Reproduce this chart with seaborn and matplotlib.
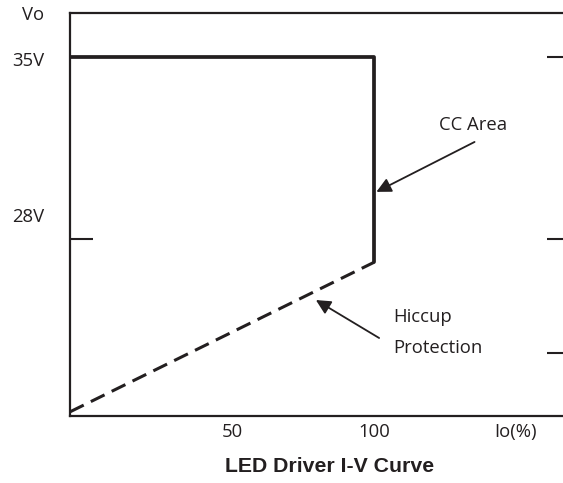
import matplotlib
matplotlib.use('Agg')
import matplotlib.pyplot as plt
import matplotlib.transforms as mtransforms
import seaborn as sns
import pandas as pd

# CC (constant current) segment of the curve
cc_current = [0, 100, 100]
cc_voltage = [35, 35, 27.1]
# hiccup protection segment (dashed)
hiccup_current = [0, 100]
hiccup_voltage = [21.35, 27.1]

x_tick_pos = [53.5, 100, 146.5]
x_tick_labels = ['50', '100', 'Io(%)']
left_ticks = [35, 28]
right_ticks = [35, 28, 23.6]
y_labels = ['Vo', '35V', '28V']

ink = '#231f20'
fs = 13.3

sns.set_style('white')
plt.rcParams['font.family'] = ['Open Sans', 'DejaVu Sans']

fig = plt.figure(figsize=(5.63, 4.83), dpi=100)
ax = fig.add_axes([70 / 563, 67 / 483, 493 / 563, 403 / 483])

cc_df = pd.DataFrame({'current': cc_current, 'voltage': cc_voltage})
hc_df = pd.DataFrame({'current': hiccup_current, 'voltage': hiccup_voltage})

sns.lineplot(data=cc_df, x='current', y='voltage', estimator=None, sort=False,
             color=ink, linewidth=2.7, ax=ax)
sns.lineplot(data=hc_df, x='current', y='voltage', estimator=None, sort=False,
             color=ink, linewidth=2.2, dashes=False, ax=ax)
ax.lines[-1].set_dashes((5, 2.6))

ax.set_xlim(0, 162.2)
ax.set_ylim(21.19, 36.69)
ax.set_xlabel('')
ax.set_ylabel('')

for side in ['left', 'bottom', 'top']:
    ax.spines[side].set_visible(True)
    ax.spines[side].set_color(ink)
    ax.spines[side].set_linewidth(1.6)
ax.spines['right'].set_visible(False)

ax.set_xticks(x_tick_pos)
ax.set_xticklabels(x_tick_labels, fontsize=fs, color=ink)
ax.tick_params(axis='x', direction='in', length=12, width=1.6, color=ink, pad=5)
ax.set_yticks(left_ticks)
ax.set_yticklabels([])
ax.tick_params(axis='y', direction='in', length=16.5, width=1.5, color=ink)

ax2 = ax.twinx()
ax2.set_ylim(ax.get_ylim())
ax2.set_yticks(right_ticks)
ax2.set_yticklabels([])
ax2.tick_params(axis='y', direction='in', length=11.5, width=1.5, color=ink)
for s in ax2.spines.values():
    s.set_visible(False)

# y labels placed left of the axis
trans = mtransforms.blended_transform_factory(fig.transFigure, ax.transData)
ax.text(33 / 563, 36.6, y_labels[0], transform=trans, ha='center', va='center',
        fontsize=fs, color=ink)
ax.text(28 / 563, 34.85, y_labels[1], transform=trans, ha='center', va='center',
        fontsize=fs, color=ink)
ax.text(28 / 563, 28.85, y_labels[2], transform=trans, ha='center', va='center',
        fontsize=fs, color=ink)

# annotations
ax.annotate('', xy=(100.8, 29.81), xytext=(133.1, 31.73),
            arrowprops=dict(arrowstyle='-|>', color=ink, lw=1.3,
                            mutation_scale=22, shrinkA=0, shrinkB=0))
ax.text(132.5, 32.38, 'CC Area', ha='center', va='center', fontsize=fs, color=ink)

ax.annotate('', xy=(80.9, 25.65), xytext=(101.7, 24.19),
            arrowprops=dict(arrowstyle='-|>', color=ink, lw=1.3,
                            mutation_scale=22, shrinkA=0, shrinkB=0))
ax.text(106.4, 24.4, 'Hiccup\nProtection', ha='left', va='center', fontsize=fs,
        color=ink, linespacing=1.92)

fig.text(330 / 563, 1 - 467 / 483, 'LED Driver I-V Curve', ha='center', va='center',
         fontsize=15.3, fontweight='bold', family='Liberation Sans', color=ink)

fig.savefig('out.png', dpi=100)
